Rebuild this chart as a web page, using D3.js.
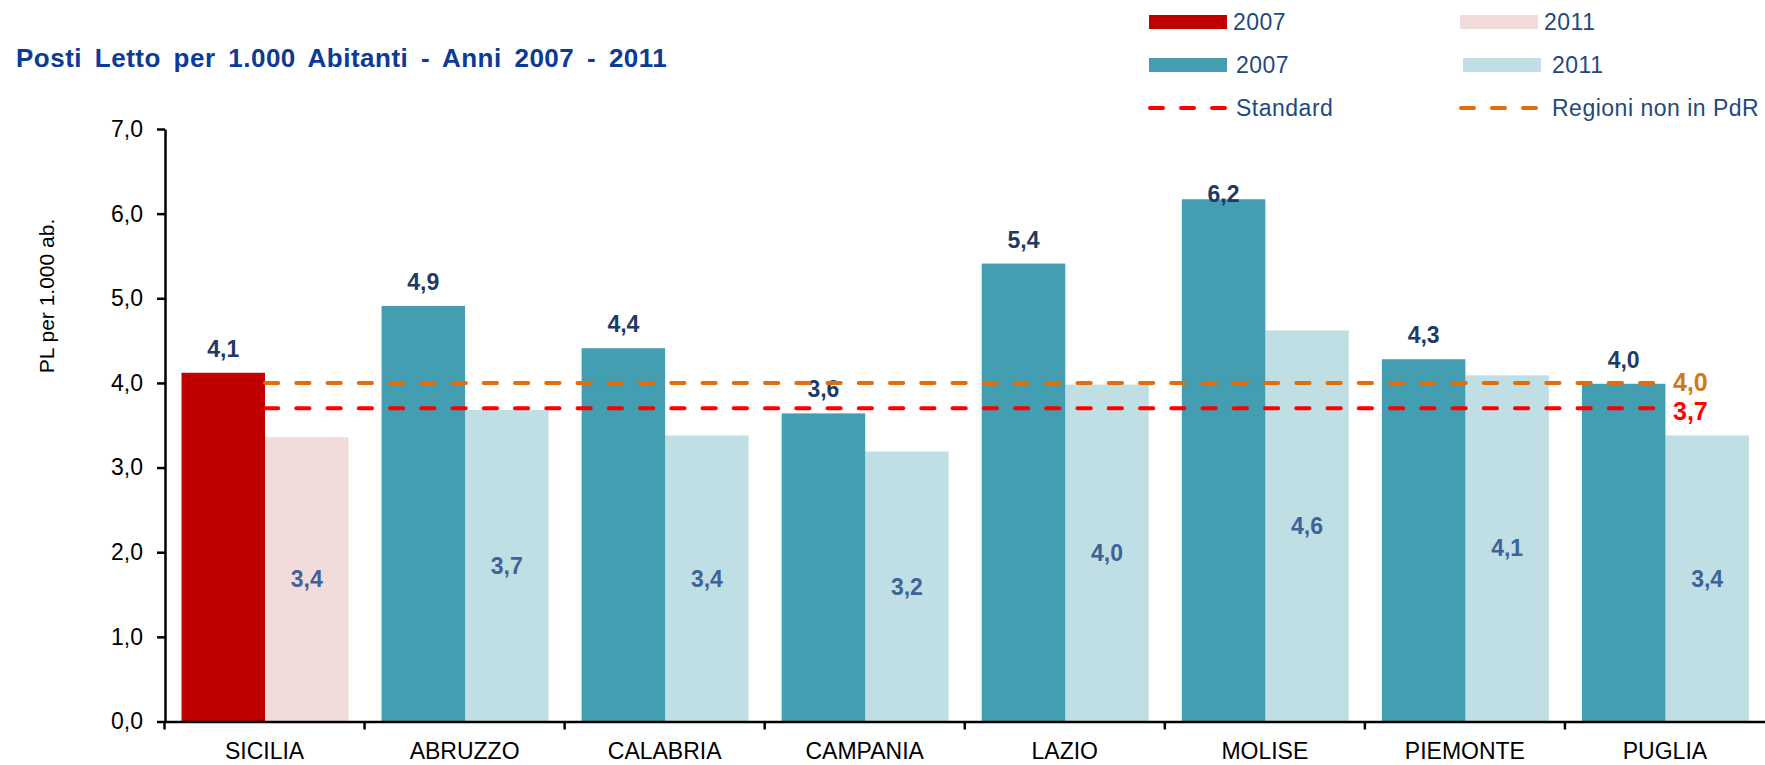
<!DOCTYPE html>
<html lang="it">
<head>
    <title>Posti Letto per 1.000 Abitanti</title>
    <meta charset="utf-8">
    <script src="https://d3js.org/d3.v7.min.js"></script>
    <style>
        body { margin: 0; background: #fff; }
        text { font-family: "Liberation Sans", Arial, sans-serif; }
    </style>
</head>
<body>
<div id="chart"></div>
<script>
    // Data
    const categories = ["SICILIA", "ABRUZZO", "CALABRIA", "CAMPANIA", "LAZIO", "MOLISE", "PIEMONTE", "PUGLIA"];
    const years = ["2007", "2011"];
    const values2007 = [4.12, 4.91, 4.41, 3.64, 5.41, 6.17, 4.28, 3.99];
    const values2011 = [3.36, 3.68, 3.38, 3.19, 3.98, 4.62, 4.09, 3.38];
    const yTicks = [0, 1, 2, 3, 4, 5, 6, 7];
    const standardValue = 3.7;
    const regioniValue = 4.0;
    const legendBars = [
        {label: "2007", color: "#C00000", col: 0, row: 0},
        {label: "2011", color: "#F2DCDB", col: 1, row: 0},
        {label: "2007", color: "#429EB0", col: 0, row: 1},
        {label: "2011", color: "#C0DFE4", col: 1, row: 1}
    ];
    const legendLines = [
        {label: "Standard", color: "#FF0000", col: 0, row: 2},
        {label: "Regioni non in PdR", color: "#E46C0A", col: 1, row: 2}
    ];

    const width = 1765, height = 765;
    const comma = v => d3.format(".1f")(v).replace(".", ",");

    const svg = d3.select("#chart")
        .append("svg")
        .attr("width", width)
        .attr("height", height);

    // Scales
    const x0 = d3.scaleBand().domain(categories).range([164.5, 1765]);
    const x1 = d3.scaleBand().domain(years).range([17, 184]);
    const y = d3.scaleLinear().domain([0, 7]).range([721.5, 129]);

    const rows = categories.map((c, i) => ({cat: c, i: i, v2007: values2007[i], v2011: values2011[i]}));

    function barColor(d, year) {
        if (d.i === 0) return year === "2007" ? "#C00000" : "#F2DCDB";
        return year === "2007" ? "#429EB0" : "#C0DFE4";
    }

    // Title
    svg.append("text")
        .attr("x", 16)
        .attr("y", 67)
        .attr("fill", "#0B3A97")
        .attr("font-size", 26)
        .attr("font-weight", "bold")
        .attr("letter-spacing", 0.5)
        .attr("word-spacing", 5)
        .text("Posti Letto per 1.000 Abitanti - Anni 2007 - 2011");

    // Bars
    const groups = svg.append("g")
        .selectAll("g")
        .data(rows)
        .join("g")
        .attr("transform", d => `translate(${x0(d.cat)},0)`);

    groups.append("rect")
        .attr("x", x1("2011"))
        .attr("y", d => y(d.v2011))
        .attr("width", x1.bandwidth())
        .attr("height", d => y(0) - y(d.v2011))
        .attr("fill", d => barColor(d, "2011"));

    groups.append("rect")
        .attr("x", x1("2007"))
        .attr("y", d => y(d.v2007))
        .attr("width", x1.bandwidth())
        .attr("height", d => y(0) - y(d.v2007))
        .attr("fill", d => barColor(d, "2007"));

    // Data labels
    groups.append("text")
        .attr("x", x1("2007") + x1.bandwidth() / 2)
        .attr("y", d => Math.max(y(d.v2007) - 24, 194))
        .attr("dy", "0.35em")
        .attr("text-anchor", "middle")
        .attr("font-size", 23)
        .attr("font-weight", "bold")
        .attr("fill", "#1F3A64")
        .text(d => comma(d.v2007));

    groups.append("text")
        .attr("x", x1("2011") + x1.bandwidth() / 2)
        .attr("y", d => y(d.v2011 / 2))
        .attr("dy", "0.35em")
        .attr("text-anchor", "middle")
        .attr("font-size", 23)
        .attr("font-weight", "bold")
        .attr("fill", "#3D6399")
        .text(d => comma(d.v2011));

    // Reference lines
    const lineStart = x0(categories[0]) + x1("2011");
    const lineEnd = x0(categories[categories.length - 1]) + x1("2007") + 72;
    const refLines = [
        {value: regioniValue, color: "#E46C0A", textColor: "#CD7A17"},
        {value: standardValue, color: "#FF0000", textColor: "#FF0000"}
    ];
    svg.append("g")
        .selectAll("line")
        .data(refLines)
        .join("line")
        .attr("x1", lineStart)
        .attr("x2", lineEnd)
        .attr("y1", d => y(d.value))
        .attr("y2", d => y(d.value))
        .attr("stroke", d => d.color)
        .attr("stroke-width", 4)
        .attr("stroke-linecap", "round")
        .attr("stroke-dasharray", "13.25,18");

    svg.append("g")
        .selectAll("text")
        .data(refLines)
        .join("text")
        .attr("x", 1673)
        .attr("y", (d, i) => y(d.value) + (i === 0 ? -1 : 3))
        .attr("dy", "0.35em")
        .attr("font-size", 25)
        .attr("font-weight", "bold")
        .attr("fill", d => d.textColor)
        .text(d => comma(d.value));

    // Y axis
    const yAxis = svg.append("g")
        .attr("transform", "translate(165,0)")
        .call(d3.axisLeft(y).tickValues(yTicks).tickFormat(comma).tickSize(8).tickSizeOuter(0).tickPadding(14));
    yAxis.selectAll("path, line").attr("stroke", "#000").attr("stroke-width", 2.5);
    yAxis.selectAll("text").attr("font-size", 23).attr("font-family", "Liberation Sans, Arial, sans-serif").attr("fill", "#000");

    // X axis
    const xAxis = svg.append("g")
        .attr("transform", `translate(0,${y(0)})`)
        .call(d3.axisBottom(x0).tickSize(0).tickSizeOuter(0).tickPadding(21));
    xAxis.select(".domain").attr("stroke", "#000").attr("stroke-width", 2.5);
    xAxis.selectAll("text").attr("font-size", 23).attr("font-family", "Liberation Sans, Arial, sans-serif").attr("fill", "#000");

    svg.append("g")
        .selectAll("line")
        .data(categories)
        .join("line")
        .attr("x1", d => x0(d))
        .attr("x2", d => x0(d))
        .attr("y1", y(0))
        .attr("y2", y(0) + 8)
        .attr("stroke", "#000")
        .attr("stroke-width", 2.5);

    // Y axis title
    svg.append("text")
        .attr("transform", "translate(47,296) rotate(-90)")
        .attr("text-anchor", "middle")
        .attr("dy", "0.35em")
        .attr("font-size", 21)
        .attr("fill", "#000")
        .text("PL per 1.000 ab.");

    // Legend
    const colX = [1149, 1460];
    const rowY = [22, 65, 108];
    const legend = svg.append("g");

    legend.selectAll("rect")
        .data(legendBars)
        .join("rect")
        .attr("x", d => colX[d.col] + (d.row === 1 ? d.col * 3 : 0))
        .attr("y", d => rowY[d.row] - 7)
        .attr("width", 78)
        .attr("height", 14)
        .attr("fill", d => d.color);

    legend.selectAll("line")
        .data(legendLines)
        .join("line")
        .attr("x1", d => colX[d.col] + 1)
        .attr("x2", d => colX[d.col] + 78)
        .attr("y1", d => rowY[d.row])
        .attr("y2", d => rowY[d.row])
        .attr("stroke", d => d.color)
        .attr("stroke-width", 4)
        .attr("stroke-linecap", "round")
        .attr("stroke-dasharray", "13,18");

    legend.selectAll("text")
        .data(legendBars.concat(legendLines))
        .join("text")
        .attr("x", d => colX[d.col] + 84 + (d.row > 0 ? d.col * 5 + 3 : 0))
        .attr("y", d => rowY[d.row])
        .attr("dy", "0.35em")
        .attr("font-size", 23)
        .attr("letter-spacing", 0.5)
        .attr("fill", "#1F497D")
        .text(d => d.label);
</script>
</body>
</html>
